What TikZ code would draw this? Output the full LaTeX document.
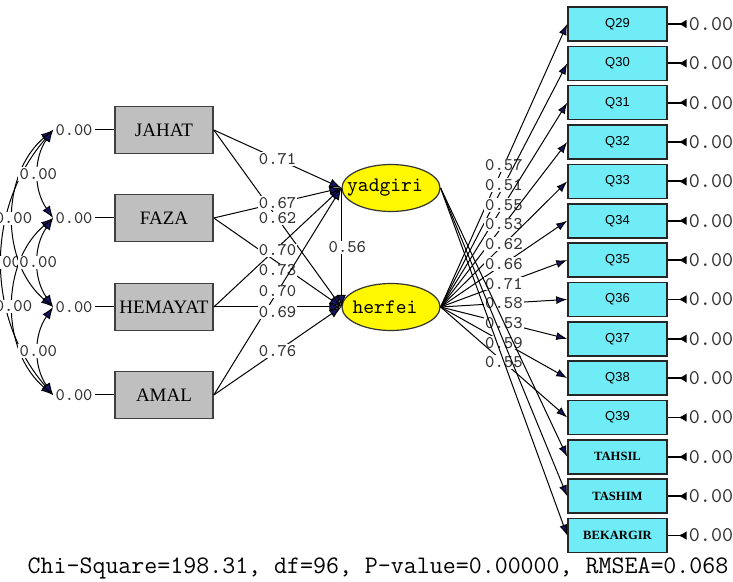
\documentclass[tikz,border=0pt]{standalone}
\usepackage{fontspec}
\setmainfont{Liberation Serif}
\setsansfont{Liberation Sans}
\usepackage{xcolor}
\usepackage{tikz}
\usetikzlibrary{calc,arrows.meta,shapes.geometric}
\definecolor{tipnavy}{RGB}{20,20,100}
\definecolor{obscyan}{RGB}{112,236,246}
\definecolor{latyellow}{RGB}{255,248,0}
\tikzset{>={Latex[length=6pt, width=4.5pt, fill=tipnavy]},
    xobs/.style={draw=black!75, fill=black!25, line width=0.8pt, minimum width=49pt, minimum height=23.5pt, inner sep=0pt, font=\fontsize{9.5}{10}\selectfont},
    yobs/.style={draw=black!85, fill=obscyan, line width=0.8pt, minimum width=49.5pt, minimum height=17pt, inner sep=0pt},
    latent/.style={ellipse, draw=black!80, fill=latyellow, line width=0.6pt, minimum width=49pt, minimum height=23.5pt, inner sep=0pt},
    lattext/.style={xshift=-3pt, inner sep=0pt, font=\ttfamily\fontsize{10.3}{11}\selectfont},
    coef/.style={fill=white, inner sep=0.6pt, text=black!80, font=\ttfamily\fontsize{8.9}{9}\selectfont},
    errval/.style={inner sep=1pt, text=black!80, font=\ttfamily\fontsize{8.8}{9}\selectfont},
    rerr/.style={inner sep=1pt, text=black!80, font=\ttfamily\fontsize{10.5}{11}\selectfont},
    link/.style={line width=0.5pt, ->},
    load/.style={line width=0.5pt, -{Latex[length=5.5pt, width=4pt, fill=tipnavy]}},
    covarc/.style={line width=0.5pt, <->},
    errtip/.style={line width=0.9pt, -{Latex[reversed, length=4pt, width=4.5pt]}}}

\begin{document}
\begin{tikzpicture}[x=0.5pt, y=-0.5pt]
    \useasboundingbox (0,0) rectangle (733,582);
    \clip (0,0) rectangle (733,582);
    \foreach \v/\t/\y in {jahat/JAHAT/130, faza/FAZA/218, hemayat/HEMAYAT/307, amal/AMAL/395}
      {
      \node[xobs] (\v) at (164,\y) {\t};
      \node[errval] (e\v) at (74,\y) {0.00};
      \draw[line width=0.5pt] (e\v.east) -- (\v.west);
      }
    \draw[covarc] (ejahat.west) to[bend right=41] node[coef] {0.00} (eamal.west);
    \draw[covarc] (ejahat.west) to[bend right=50] node[coef] {0.00} (ehemayat.west);
    \draw[covarc] (efaza.west) to[bend right=50] node[coef] {0.00} (eamal.west);
    \draw[covarc] (ejahat.west) to[bend right=35] node[coef] {0.00} (efaza.west);
    \draw[covarc] (efaza.west) to[bend right=35] node[coef] {0.00} (ehemayat.west);
    \draw[covarc] (ehemayat.west) to[bend right=35] node[coef] {0.00} (eamal.west);
    \node[latent, label={[lattext]center:yadgiri}] (yad) at (391,188) {};
    \node[latent, label={[lattext]center:herfei}] (her) at (391,307) {};
    \draw[link] (jahat.east) -- node[coef] {0.71} (yad.west);
    \draw[link] (jahat.east) -- node[coef] {0.62} (her.west);
    \draw[link] (faza.east) -- node[coef] {0.67} (yad.west);
    \draw[link] (faza.east) -- node[coef, yshift=-4pt] {0.73} (her.west);
    \draw[link] (hemayat.east) -- node[coef, yshift=-1.5pt] {0.70} (yad.west);
    \draw[link] (amal.east) -- node[coef] {0.70} (yad.west);
    \draw[link] (amal.east) -- node[coef] {0.76} (her.west);
    \draw[link] (hemayat.east) -- node[coef, yshift=-2.5pt] {0.69} (her.west);
    \draw[link] (yad.west) -- node[coef, xshift=3pt] {0.56} (her.west);
    \foreach \n/\c [count=\k from 0] in {29/0.57, 30/0.51, 31/0.55, 32/0.53, 33/0.62, 34/0.66, 35/0.71, 36/0.58, 37/0.53, 38/0.59, 39/0.55}
      {
      \node[yobs, font=\sffamily\fontsize{6.5}{7}\selectfont] (q\n) at (617.5, 24+39.35*\k) {Q\n};
      \node[rerr] (rq\n) at (711, 24+39.35*\k) {0.00};
      \draw[errtip] (q\n.east) -- (rq\n.west);
      \draw[load] (her.east) -- node[coef] {\c} (q\n.west);
      }
    \foreach \n/\t [count=\k from 11] in {tahsil/TAHSIL, tashim/TASHIM, bekargir/BEKARGIR}
      {
      \node[yobs, font=\bfseries\fontsize{6.3}{7}\selectfont] (\n) at (617.5, 24+39.35*\k) {\t};
      \node[rerr] (r\n) at (711, 24+39.35*\k) {0.00};
      \draw[errtip] (\n.east) -- (r\n.west);
      \draw[load] (yad.east) -- (\n.west);
      }
    \node[font=\ttfamily\fontsize{12.6}{13}\selectfont] (fit) at (378,568) {Chi-Square=198.31, df=96, P-value=0.00000, RMSEA=0.068};
\end{tikzpicture}
\end{document}
